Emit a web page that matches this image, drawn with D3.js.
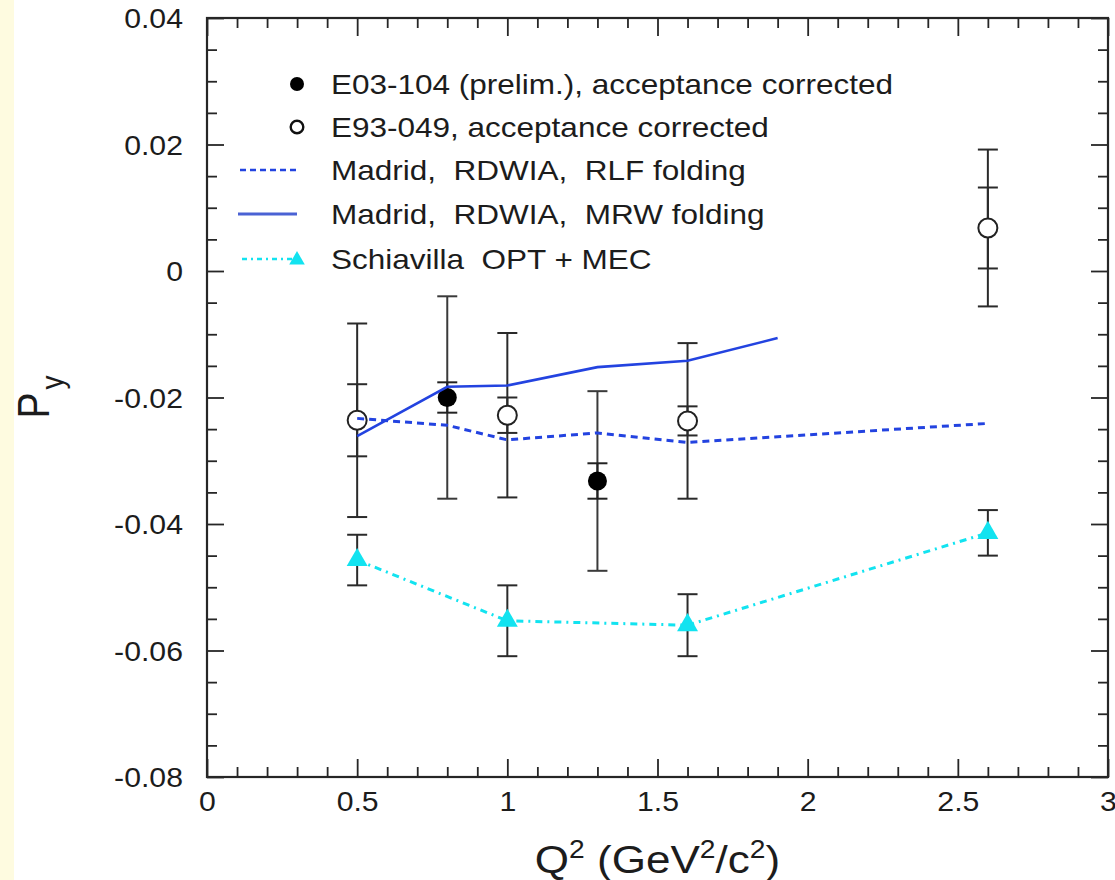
<!DOCTYPE html>
<html>
<head>
<meta charset="utf-8">
<script src="https://cdn.jsdelivr.net/npm/d3@7"></script>
<style>
body { margin: 0; background: #fff; }
svg { display: block; }
text { font-family: "Liberation Sans", Arial, sans-serif; fill: #1c1c1c; }
</style>
</head>
<body>
<div class="chart"></div>
<script>
// E03-104 (prelim.) - filled circles
const q2E03 = [0.8, 1.3];
const pyE03 = [-0.0200, -0.0332];
const statE03 = [0.0024, 0.0028];
const totE03 = [0.0160, 0.0142];
// E93-049 - open circles
const q2E93 = [0.5, 1.0, 1.6, 2.6];
const pyE93 = [-0.0236, -0.0228, -0.0237, 0.0068];
const statE93 = [0.0057, 0.0028, 0.0023, 0.0064];
const totE93 = [0.0153, 0.0130, 0.0123, 0.0124];
// Madrid RDWIA, RLF folding (dashed)
const q2RLF = [0.5, 0.8, 1.0, 1.3, 1.6, 2.6];
const pyRLF = [-0.0233, -0.0244, -0.0267, -0.0256, -0.0271, -0.0241];
// Madrid RDWIA, MRW folding (solid)
const q2MRW = [0.5, 0.8, 1.0, 1.3, 1.6, 1.9];
const pyMRW = [-0.0261, -0.0183, -0.0181, -0.0152, -0.0142, -0.0106];
// Schiavilla OPT + MEC (triangles)
const q2Sch = [0.5, 1.0, 1.6, 2.6];
const pySch = [-0.0457, -0.0553, -0.0560, -0.0414];
const errSch = [0.0040, 0.0056, 0.0049, 0.0036];

const xTicks = [0, 0.5, 1, 1.5, 2, 2.5, 3];
const yTicks = [0.04, 0.02, 0, -0.02, -0.04, -0.06, -0.08];
const legendLabels = ['E03-104 (prelim.), acceptance corrected', 'E93-049, acceptance corrected',
    'Madrid,  RDWIA,  RLF folding', 'Madrid,  RDWIA,  MRW folding', 'Schiavilla  OPT + MEC'];

const blue = '#2343e0', cyan = '#12e3f0', ink = '#262626';
const width = 1115, height = 880;
const svg = d3.select('.chart').append('svg')
    .attr('width', width)
    .attr('height', height);

svg.append('rect').attr('x', 0).attr('y', 0).attr('width', 14).attr('height', height).attr('fill', '#fefbe0');

const xScale = d3.scaleLinear().domain([0, 3]).range([207, 1108]);
const yScale = d3.scaleLinear().domain([-0.08, 0.04]).range([777, 18]);
const x0 = xScale(0), x1 = xScale(3), yb = yScale(-0.08), yt = yScale(0.04);

const xMinor = d3.range(0, 31).map(i => i / 10).filter(v => Math.abs(v * 2 - Math.round(v * 2)) > 1e-6);
const yMinor = d3.range(-16, 9).map(i => i * 0.005).filter(v => Math.abs(v * 50 - Math.round(v * 50)) > 1e-6);
const fmt = d => String(d);

function tickAxis(axis, pos, values, size) {
    const g = svg.append('g')
        .attr('class', 'axis')
        .attr('transform', pos)
        .call(axis.tickValues(values).tickSize(size).tickFormat(''));
    g.select('.domain').remove();
    g.selectAll('line').attr('stroke', ink).attr('stroke-width', 1.8);
    return g;
}
// minor ticks on all four sides
tickAxis(d3.axisBottom(xScale), `translate(0,${yb})`, xMinor, -10);
tickAxis(d3.axisTop(xScale), `translate(0,${yt})`, xMinor, -10);
tickAxis(d3.axisLeft(yScale), `translate(${x0},0)`, yMinor, -10);
tickAxis(d3.axisRight(yScale), `translate(${x1},0)`, yMinor, -10);
tickAxis(d3.axisTop(xScale), `translate(0,${yt})`, xTicks, -18);
tickAxis(d3.axisRight(yScale), `translate(${x1},0)`, yTicks, -17);

const xAxis = svg.append('g')
    .attr('class', 'axis x-axis')
    .attr('transform', `translate(0,${yb})`)
    .call(d3.axisBottom(xScale).tickValues(xTicks).tickSize(-18).tickPadding(15).tickFormat(fmt));
xAxis.select('.domain').remove();
xAxis.selectAll('line').attr('stroke', ink).attr('stroke-width', 1.8);
xAxis.selectAll('text').attr('font-size', 27).attr('fill', '#1c1c1c').attr('font-family', null)
    .attr('transform', 'scale(1.12,1)');

const yAxis = svg.append('g')
    .attr('class', 'axis y-axis')
    .attr('transform', `translate(${x0},0)`)
    .call(d3.axisLeft(yScale).tickValues(yTicks).tickSize(-17).tickPadding(0).tickFormat(fmt));
yAxis.select('.domain').remove();
yAxis.selectAll('line').attr('stroke', ink).attr('stroke-width', 1.8);
yAxis.selectAll('text').attr('font-size', 27).attr('fill', '#1c1c1c').attr('font-family', null)
    .attr('x', -24 / 1.12).attr('dy', '0.36em')
    .attr('transform', 'scale(1.12,1)');

svg.append('rect')
    .attr('x', x0).attr('y', yt)
    .attr('width', x1 - x0).attr('height', yb - yt)
    .attr('fill', 'none').attr('stroke', ink).attr('stroke-width', 2.2);

// axis titles
const xt = svg.append('text')
    .attr('transform', `translate(${(x0 + x1) / 2},873) scale(1.13,1)`)
    .attr('text-anchor', 'middle')
    .attr('font-size', 39);
xt.append('tspan').text('Q');
xt.append('tspan').text('2').attr('font-size', 25).attr('dy', -15);
xt.append('tspan').text(' (GeV').attr('dy', 15);
xt.append('tspan').text('2').attr('font-size', 25).attr('dy', -15);
xt.append('tspan').text('/c').attr('dy', 15);
xt.append('tspan').text('2').attr('font-size', 25).attr('dy', -15);
xt.append('tspan').text(')').attr('dy', 15);

const ytl = svg.append('text')
    .attr('transform', 'translate(49,397) scale(1.13,1) rotate(-90)')
    .attr('text-anchor', 'middle')
    .attr('font-size', 39);
ytl.append('tspan').text('P');
ytl.append('tspan').text('y').attr('font-size', 28).attr('dx', 3).attr('dy', 12);

// error bars
function errorBars(q2, py, err, color) {
    const g = svg.append('g').attr('stroke', color).attr('stroke-width', 2);
    q2.forEach((q, i) => {
        const cx = xScale(q), lo = yScale(py[i] - err[i]), hi = yScale(py[i] + err[i]);
        g.append('line').attr('x1', cx).attr('x2', cx).attr('y1', lo).attr('y2', hi);
        g.append('line').attr('x1', cx - 10).attr('x2', cx + 10).attr('y1', lo).attr('y2', lo);
        g.append('line').attr('x1', cx - 10).attr('x2', cx + 10).attr('y1', hi).attr('y2', hi);
    });
}
errorBars(q2E93, pyE93, totE93, '#2a2a2a');
errorBars(q2E93, pyE93, statE93, '#2a2a2a');
errorBars(q2E03, pyE03, totE03, '#3a3a3a');
errorBars(q2E03, pyE03, statE03, '#222');
errorBars(q2Sch, pySch, errSch, '#2a2a2a');

svg.append('g').selectAll('circle')
    .data(q2E93)
    .enter()
    .append('circle')
    .attr('cx', d => xScale(d))
    .attr('cy', (d, i) => yScale(pyE93[i]))
    .attr('r', 9.5)
    .attr('fill', '#fff')
    .attr('stroke', '#222')
    .attr('stroke-width', 2);

svg.append('g').selectAll('circle')
    .data(q2E03)
    .enter()
    .append('circle')
    .attr('cx', d => xScale(d))
    .attr('cy', (d, i) => yScale(pyE03[i]))
    .attr('r', 9.5)
    .attr('fill', '#000');

const line = d3.line().x(d => xScale(d[0])).y(d => yScale(d[1]));
svg.append('path')
    .attr('d', line(d3.zip(q2RLF, pyRLF)))
    .attr('fill', 'none').attr('stroke', blue).attr('stroke-width', 3)
    .attr('stroke-dasharray', '7,5');
svg.append('path')
    .attr('d', line(d3.zip(q2MRW, pyMRW)))
    .attr('fill', 'none').attr('stroke', blue).attr('stroke-width', 2.6);
svg.append('path')
    .attr('d', line(d3.zip(q2Sch, pySch)))
    .attr('fill', 'none').attr('stroke', cyan).attr('stroke-width', 3)
    .attr('stroke-dasharray', '7,5,2,5');

const tri = d3.symbol().type(d3.symbolTriangle);
svg.append('g').selectAll('path')
    .data(q2Sch)
    .enter()
    .append('path')
    .attr('d', tri.size(190)())
    .attr('transform', (d, i) => `translate(${xScale(d)},${yScale(pySch[i])})`)
    .attr('fill', cyan);

// legend
const legY = [84, 127, 170, 214, 259];
const legend = svg.append('g');
legend.append('circle').attr('cx', 297).attr('cy', legY[0]).attr('r', 7).attr('fill', '#000');
legend.append('circle').attr('cx', 297).attr('cy', legY[1]).attr('r', 6.3)
    .attr('fill', '#fff').attr('stroke', '#111').attr('stroke-width', 2.4);
legend.append('line').attr('x1', 240).attr('x2', 297).attr('y1', legY[2]).attr('y2', legY[2])
    .attr('stroke', blue).attr('stroke-width', 2.4).attr('stroke-dasharray', '6,4');
legend.append('line').attr('x1', 238).attr('x2', 297).attr('y1', legY[3]).attr('y2', legY[3])
    .attr('stroke', '#4a62d4').attr('stroke-width', 3);
legend.append('line').attr('x1', 242).attr('x2', 292).attr('y1', legY[4]).attr('y2', legY[4])
    .attr('stroke', cyan).attr('stroke-width', 2.4).attr('stroke-dasharray', '5,4,2,4');
legend.append('path').attr('d', tri.size(105)())
    .attr('transform', `translate(297,${legY[4] + 1})`).attr('fill', cyan);
legend.selectAll('text')
    .data(legendLabels)
    .enter()
    .append('text')
    .text(d => d)
    .style('white-space', 'pre')
    .attr('transform', (d, i) => `translate(331,${legY[i] + 10}) scale(1.167,1)`)
    .attr('font-size', 27);
</script>
</body>
</html>
